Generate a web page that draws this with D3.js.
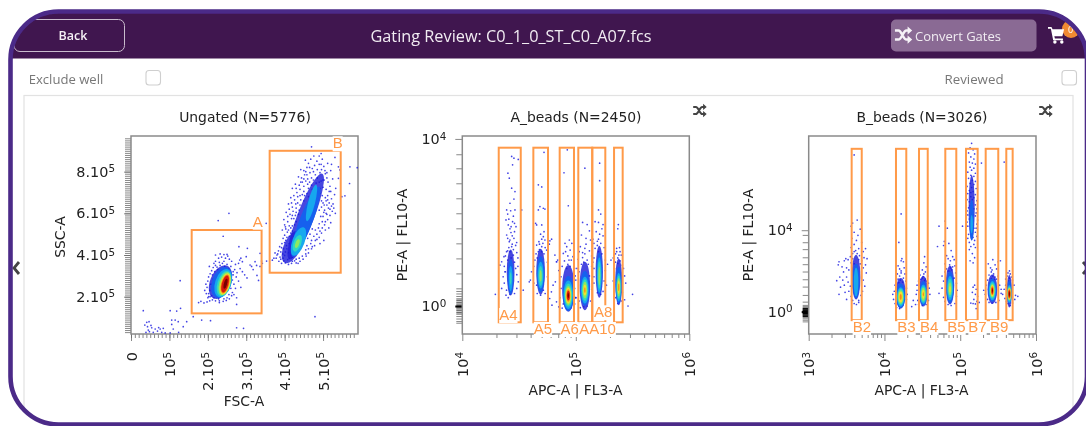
<!DOCTYPE html>
<html>
  <head>
    <title>Gating Review</title>
    <meta charset="utf-8">
    <style>
      html, body { margin: 0; padding: 0; background: #fff; }
      svg { display: block; }
      text { font-family: "DejaVu Sans", sans-serif; fill: #222; }
      .ui { font-family: "Open Sans", sans-serif; }
    </style>
  </head>
  <body>
    <script src="https://d3js.org/d3.v7.min.js"></script>
    <script>
      // jet colours of the density scale, low to high
      const jetLevels = ["#1c1cd8","#1560ee","#18a8ee","#30d8c0","#90e860","#f0e030","#f88818","#d81808","#780000"]

      // Ungated panel, values in units of 10^5
      const ungatedXTicks = [0,1e5,2e5,3e5,4e5,5e5]
      const ungatedXLabels = ["0","10^5","2.10^5","3.10^5","4.10^5","5.10^5"]
      const ungatedYTicks = [2e5,4e5,6e5,8e5]
      const ungatedYLabels = ["2.10^5","4.10^5","6.10^5","8.10^5"]
      const ungatedGates = [["A",1.58,3.40,1.2,5.2],["B",3.61,5.46,3.15,9.0]]
      const ungatedGateLabels = [["A",3.17,5.36],["B",5.25,9.12]]
      const ungatedDebris = [[.32,1.33],[1.02,1.33],[1.19,1.31],[1.29,1.44],[1.28,2.77],[.41,.77],[.47,.8],[.36,.64],[.43,.56],[.54,.51],[.63,.45],[.76,.45],[.84,.48],[.39,.29],[.48,.32],[.58,.29],[.8,.29],[.89,.26],[1.02,.26],[1.24,.29],[1.06,.88],[1.15,.88],[1.06,.67],[1.23,.8],[1.36,.56],[1.45,.8],[1.62,1.04],[1.84,.88],[2.07,.85],[2.75,.51],[2.93,.48],[2.75,1.63],[4.79,1.04],[.45,.4],[.52,.62],[.69,.35],[.72,.52],[1.1,.45]]
      const ungatedStray = [[5.4,8.23],[5.7,8.23],[5.89,8.19],[5.44,8.08],[5.49,6.8],[5.57,6.84],[5.69,7.43],[5.4,7.68],[5.31,8.68],[4.7,9.19],[4.95,8.87],[2.55,6.0],[2.27,5.65],[2.4,4.9],[2.81,4.4],[3.03,4.32],[3.36,4.08],[3.52,5.52],[3.53,3.71],[3.23,3.68],[3.27,3.5],[3.36,3.45],[3.4,3.71],[3.14,3.45],[3.1,3.52],[3.0,3.92],[2.9,3.68],[2.83,3.76],[3.32,2.78],[3.28,3.02],[3.42,3.6],[3.18,3.3]]
      const ungatedAPoints = [[2.2,4.0],[2.32,4.05],[2.42,4.02],[2.5,4.03],[2.28,3.85],[2.36,3.9],[2.46,3.85],[2.56,3.8],[2.62,3.7],[2.2,3.7],[2.16,3.6],[2.3,3.65],[2.42,3.7],[2.72,3.55],[2.8,3.6],[2.84,3.35],[2.7,3.3],[2.76,3.15],[2.9,3.2],[2.96,3.05],[3.02,2.9],[2.74,2.95],[2.8,2.75],[2.68,2.6],[2.72,2.4],[2.64,2.2],[2.62,2.05],[2.56,1.9],[2.48,1.82],[2.4,1.78],[2.3,1.72],[2.2,1.8],[2.12,1.85],[2.05,1.8],[1.98,1.75],[1.9,1.7],[2.02,2.0],[1.96,2.15],[1.92,2.3],[1.98,2.45],[1.95,2.6],[2.0,2.75],[2.02,2.95],[2.06,3.1],[2.1,3.25],[2.14,3.4],[2.2,3.5],[2.5,3.55],[2.6,3.45],[2.66,3.2],[2.32,3.5],[2.26,3.3],[2.05,2.3],[2.1,2.05],[2.16,1.95],[2.28,1.9],[2.42,1.9],[2.55,2.1],[2.6,2.4],[2.64,2.8],[2.62,3.05],[2.14,2.85],[2.08,2.6],[2.12,3.05],[2.58,2.95],[2.0,1.95],[1.82,1.78],[1.76,1.72],[2.75,1.95],[2.68,2.1],[2.86,2.45],[2.52,3.95],[2.04,3.45],[2.86,3.85],[2.38,3.6],[2.44,3.45],[2.24,3.42],[2.18,3.2],[2.54,3.35],[2.66,3.05],[2.02,2.15],[2.06,2.0],[2.3,1.8],[2.5,1.95]]
      const ungatedBPoints = [[3.85,3.7],[3.92,3.6],[3.88,3.9],[3.96,3.85],[4.02,3.62],[4.1,3.55],[4.2,3.7],[4.3,3.62],[4.08,3.78],[4.0,3.98],[3.82,4.05],[3.78,3.85],[3.9,4.15],[3.97,4.3],[3.87,4.4],[3.93,4.55],[4.03,4.7],[4.0,4.95],[4.07,5.1],[4.03,5.25],[4.12,5.4],[4.08,5.6],[4.18,5.75],[4.14,5.95],[4.22,6.1],[4.2,6.3],[4.29,6.45],[4.26,6.65],[4.34,6.8],[4.32,7.0],[4.4,7.15],[4.38,7.35],[4.46,7.5],[4.44,7.7],[4.52,7.85],[4.5,8.05],[4.58,8.2],[4.62,8.4],[4.66,7.95],[4.72,8.15],[4.78,8.3],[4.84,8.5],[4.9,8.35],[4.96,8.1],[5.02,8.25],[5.06,7.9],[4.92,7.95],[4.8,7.85],[4.7,7.7],[4.6,7.65],[5.1,7.7],[5.13,7.5],[5.03,7.6],[4.95,7.55],[5.18,7.3],[5.2,7.05],[5.08,7.15],[5.0,7.25],[5.12,6.85],[5.22,6.7],[5.26,6.45],[5.16,6.5],[5.08,6.6],[5.14,6.25],[5.24,6.1],[5.18,5.9],[5.08,6.0],[5.12,5.7],[5.04,5.45],[5.06,5.2],[4.96,5.05],[4.98,5.6],[5.0,5.85],[4.9,4.85],[4.88,5.3],[4.8,4.7],[4.78,4.45],[4.84,5.0],[4.7,4.3],[4.62,4.1],[4.68,4.55],[4.56,3.95],[4.48,3.8],[4.4,3.7],[4.55,4.25],[4.5,7.3],[4.6,7.4],[4.7,7.35],[4.82,7.45],[4.92,7.2],[4.58,6.95],[4.46,6.9],[4.5,6.6],[4.4,6.4],[4.38,6.15],[4.28,5.9],[4.3,5.6],[4.2,5.4],[4.2,5.15],[4.12,4.9],[4.12,4.55],[4.06,4.3],[4.98,6.85],[5.03,6.4],[5.06,6.75],[4.68,8.6],[4.54,8.55],[4.42,8.1],[4.36,7.75],[4.28,7.4],[4.2,7.2],[4.16,6.75],[4.1,6.45],[4.04,6.05],[3.98,5.7],[4.0,5.45],[3.94,5.2],[5.3,6.9],[5.33,7.2],[5.28,6.25],[5.32,6.0],[5.2,5.55],[5.15,5.3],[5.02,4.7],[4.92,4.55],[5.25,7.65],[5.2,8.05],[5.12,8.4],[4.98,8.6],[4.76,8.75],[4.9,8.75],[5.22,8.35],[3.72,3.85],[3.75,4.1],[3.68,3.75]]
      const ungatedBFringe = [[4.55,7.55],[4.65,7.5],[4.75,7.6],[4.85,7.7],[4.62,7.2],[4.72,7.15],[4.82,7.1],[4.9,7.5],[5.0,7.6],[4.5,7.05],[4.4,6.85],[4.52,6.85],[4.62,6.8],[4.92,6.95],[4.96,6.6],[5.0,6.5],[5.12,6.65],[5.04,6.15],[4.96,6.3],[4.42,6.65],[4.34,6.5],[4.3,6.25],[4.36,5.95],[4.24,5.75],[4.26,5.45],[4.16,5.3],[4.16,5.05],[4.1,5.2],[4.06,4.85],[4.0,4.6],[4.05,4.45],[3.95,4.05],[4.02,4.15],[4.12,3.85],[4.2,3.9],[4.3,3.8],[4.38,3.85],[4.46,3.95],[4.55,4.05],[4.62,4.3],[4.7,4.7],[4.76,4.9],[4.8,5.2],[4.9,5.5],[4.98,5.3],[4.94,5.85],[5.02,6.05],[4.9,6.15],[5.1,6.4],[5.18,6.2],[4.55,8.0],[4.65,8.2],[4.75,8.0],[4.85,8.1],[4.95,8.35],[5.05,8.05],[4.58,7.85],[4.5,7.65],[4.42,7.5],[4.3,7.2],[4.24,6.85],[4.18,6.5],[4.12,6.2],[4.08,5.85],[4.02,5.35],[3.96,4.8],[3.92,4.35],[5.1,7.95],[5.16,7.05],[5.22,6.35],[5.1,5.95],[5.06,5.6],[4.92,5.15],[4.84,4.75],[4.72,4.4],[4.58,4.45],[4.18,3.6],[4.26,3.72],[4.35,3.6],[3.98,3.72],[3.9,3.8],[3.84,4.2],[3.8,4.0],[4.1,4.1],[4.16,4.0],[4.6,4.8],[4.66,5.0],[4.72,5.25],[4.2,5.9],[4.3,6.05]]
      const ungatedDensity = [
        [2.33,2.7,.27,.85,22,0],[2.36,2.68,.25,.77,20,1],[2.4,2.65,.21,.7,18,2],[2.42,2.63,.17,.62,17,3],[2.44,2.62,.145,.57,16,4],[2.45,2.61,.125,.52,16,5],[2.45,2.61,.105,.47,15,6],[2.45,2.61,.085,.42,15,7],[2.46,2.62,.04,.25,15,8],
        [4.55,5.85,.22,2.2,21,0],[4.2,4.4,.22,.85,25,0],[4.55,5.6,.17,1.8,21,1],[4.36,4.65,.16,.72,20,2],[4.7,6.5,.09,.9,14,2],[4.33,4.56,.1,.42,20,3],[4.33,4.55,.05,.22,20,4]
      ]

      // A_beads panel, values as log10
      const beadsAXTicks = [1e4,1e5,1e6]
      const beadsAXLabels = ["10^4","10^5","10^6"]
      const beadsAYTicks = [1e4,1]
      const beadsAYLabels = ["10^4","10^0"]
      const beadsAYMinorLog = [3.633,3.297,2.938,2.579,2.22,1.86,1.5,1.14,.78,.423,.36,.3,.24,.18,.14,.1,.06,.03,-.03,-.06,-.1,-.14,-.18,-.24,-.3,-.36,-.4]
      const beadsAGates = [["A4",4.321,4.515],["A5",4.626,4.755],["A6",4.858,4.984],["A7",5.022,5.145],["A8",5.145,5.26],["A10",5.337,5.413]]
      const beadsAGateY = [-.39,3.79]
      const beadsAGateLabels = [["A4",4.325,-.335],["A5",4.63,-.67],["A6",4.865,-.67],["AA10",5.03,-.67],["A8",5.16,-.27]]
      const beadsADensity = [
        [4.426,.8,.034,.55,0,0],[4.426,.7,.026,.42,0,1],[4.426,.66,.016,.3,0,2],[4.426,.66,.008,.15,0,3],
        [4.69,.82,.038,.55,0,0],[4.69,.76,.034,.43,0,1],[4.69,.74,.026,.32,0,2],[4.69,.72,.018,.24,0,3],[4.69,.72,.01,.14,0,4],
        [4.934,.42,.054,.56,0,0],[4.934,.3,.05,.42,0,1],[4.934,.27,.042,.34,0,2],[4.934,.26,.034,.28,0,3],[4.934,.25,.028,.23,0,4],[4.934,.25,.023,.19,0,5],[4.934,.25,.018,.15,0,6],[4.934,.25,.013,.11,0,7],[4.934,.25,.006,.06,0,8],
        [5.08,.48,.046,.58,0,0],[5.08,.42,.042,.42,0,1],[5.08,.38,.034,.32,0,2],[5.08,.38,.027,.26,0,3],[5.08,.38,.02,.2,0,4],[5.08,.38,.013,.13,0,5],[5.08,.38,.006,.07,0,6],
        [5.207,.82,.032,.62,0,0],[5.207,.78,.027,.5,0,1],[5.207,.74,.02,.42,0,2],[5.207,.74,.014,.33,0,3],[5.207,.72,.008,.22,0,4],
        [5.378,.58,.03,.56,0,0],[5.378,.5,.028,.44,0,1],[5.378,.45,.022,.34,0,2],[5.378,.45,.018,.28,0,3],[5.378,.45,.014,.22,0,4],[5.378,.45,.01,.16,0,5],[5.378,.45,.005,.09,0,6]
      ]
      const beadsAPoints4 = [[4.435,3.58],[4.455,3.54],[4.493,3.51],[4.443,3.38],[4.402,3.18],[4.414,3.06],[4.435,2.82],[4.464,2.74],[4.455,2.56],[4.42,2.46],[4.391,2.3],[4.426,2.28],[4.464,2.3],[4.385,2.06],[4.443,2.02],[4.405,1.94],[4.473,1.9],[4.429,1.76],[4.391,1.7],[4.455,1.62],[4.414,1.54],[4.479,1.52],[4.435,1.42],[4.367,1.18],[4.347,1.06],[4.332,.98],[4.523,2.3],[4.537,.38],[4.291,.28],[4.385,.26],[4.405,.2],[4.347,.42],[4.493,.58],[4.376,.82],[4.4,2.2],[4.45,2.15],[4.41,2.08],[4.46,1.98],[4.42,1.85],[4.46,1.78],[4.4,1.62],[4.47,1.45],[4.41,1.4],[4.39,1.3],[4.45,1.35],[4.48,1.28],[4.38,1.2],[4.4,1.1],[4.49,1.15],[4.37,.95],[4.49,.95],[4.36,.7],[4.37,.55],[4.48,.75],[4.39,.38],[4.42,.28],[4.46,.3],[4.48,.42],[4.43,1.9],[4.44,1.68],[4.42,1.58],[4.44,1.48],[4.42,1.3],[4.45,1.22],[4.43,1.15],[4.4,1.32],[4.46,1.05],[4.47,.9],[4.38,.82]]
      const beadsAPoints5 = [[4.67,2.9],[4.7,2.85],[4.72,3.68],[4.684,2.38],[4.67,2.3],[4.714,2.34],[4.728,2.32],[4.646,1.98],[4.655,1.94],[4.7,1.94],[4.72,1.78],[4.714,1.66],[4.675,1.54],[4.655,1.46],[4.728,1.58],[4.7,1.42],[4.772,1.56],[4.787,1.6],[4.767,1.48],[4.743,1.34],[4.831,1.06],[4.816,1.22],[4.84,1.1],[4.61,.82],[4.6,.62],[4.59,.58],[4.714,.38],[4.69,.26],[4.655,.5],[4.66,1.15],[4.67,1.3],[4.72,1.25],[4.73,1.4],[4.68,1.48],[4.64,1.1],[4.75,1.05],[4.63,.95],[4.75,.7],[4.63,.55],[4.66,.3],[4.73,.3],[4.65,1.25],[4.7,1.6],[4.69,1.72],[4.71,1.5],[4.68,1.35],[4.7,1.3]]
      const beadsAPoints6 = [[4.925,3.74],[4.896,3.19],[4.934,2.4],[4.943,1.58],[4.905,1.5],[4.965,1.5],[4.92,1.42],[4.95,1.34],[4.89,1.26],[4.975,1.18],[4.83,1.06],[4.8,.5],[4.785,.34],[4.82,.58],[4.77,.18],[4.79,.02],[4.83,.1],[4.85,-.02],[4.88,-.05],[4.92,-.07],[4.96,-.04],[4.99,.05],[5.0,.2],[4.98,.45],[4.93,1.2],[4.9,1.08],[4.96,1.1],[4.88,.95],[4.99,.9],[4.93,1.0],[4.87,.7],[4.87,.42],[4.86,.2],[4.89,.05],[4.995,.72],[4.91,1.3],[4.85,.85],[4.94,1.1],[4.92,.9],[4.95,.95]]
      const beadsAPoints7 = [[5.08,3.3],[5.06,2.0],[5.1,1.95],[5.12,1.8],[5.05,1.7],[5.09,1.62],[5.13,1.58],[5.04,1.42],[5.08,1.38],[5.12,1.32],[5.03,1.3],[5.16,1.5],[5.14,1.2],[5.02,1.12],[5.06,1.16],[5.1,1.1],[5.01,.9],[5.14,.95],[5.16,.7],[5.0,.62],[4.99,.42],[5.14,.4],[5.03,.12],[5.07,-.02],[5.1,.0],[5.13,.12],[5.05,1.0],[5.15,1.05],[5.0,.2],[5.04,-.04],[5.12,.72],[5.03,.82],[5.08,1.25],[5.07,1.05],[5.11,1.0],[5.09,1.48],[5.06,1.28]]
      const beadsAPoints8 = [[5.21,3.42],[5.21,3.0],[5.2,2.3],[5.22,2.2],[5.17,2.02],[5.2,2.0],[5.24,1.95],[5.23,1.85],[5.18,1.78],[5.24,1.68],[5.15,1.6],[5.19,1.55],[5.22,1.5],[5.25,1.4],[5.17,1.38],[5.2,1.3],[5.23,1.25],[5.26,1.1],[5.16,1.15],[5.16,.9],[5.26,.85],[5.25,.6],[5.16,.55],[5.19,.32],[5.22,.28],[5.24,.35],[5.27,.5],[5.28,1.0],[5.2,1.6],[5.21,1.72],[5.19,1.45]]
      const beadsAPoints10 = [[5.375,1.95],[5.37,1.85],[5.385,1.4],[5.36,1.38],[5.39,1.3],[5.35,1.25],[5.4,1.22],[5.37,1.15],[5.33,1.15],[5.31,1.1],[5.41,.98],[5.35,1.05],[5.42,.9],[5.34,.9],[5.43,.72],[5.33,.6],[5.44,.55],[5.35,.2],[5.38,.1],[5.4,.12],[5.37,.06],[5.5,.28],[5.46,.0],[5.43,.15],[5.41,.33],[5.39,1.08],[5.36,1.3],[5.38,1.22],[5.37,1.02]]

      // B_beads panel, values as log10
      const beadsBXTicks = [1e3,1e4,1e5,1e6]
      const beadsBXLabels = ["10^3","10^4","10^5","10^6"]
      const beadsBYTicks = [1e4,1]
      const beadsBYLabels = ["10^4","10^0"]
      const beadsBYMinorLog = [3.77,3.41,3.07,2.67,2.33,1.97,1.59,1.23,.82,.49,.33,.27,.22,.18,.14,.1,.07,.04,.02,-.02,-.04,-.07,-.1,-.14,-.18,-.22,-.27,-.33,-.4,-.48]
      const beadsBGates = [["B2",3.567,3.70],["B3",4.152,4.288],["B4",4.456,4.571],["B5",4.803,4.948],["B7",5.076,5.23],["B9",5.336,5.502],["B10",5.608,5.692]]
      const beadsBGateY = [-.42,8.0]
      const beadsBGateLabels = [["B2",3.58,-1.0],["B3",4.17,-1.0],["B4",4.47,-1.0],["B5",4.83,-1.0],["B7",5.107,-1.0],["B9",5.393,-1.0]]
      const beadsBDensity = [
        [3.625,1.7,.058,1.1,0,0],[3.625,1.5,.048,.85,0,1],[3.625,1.45,.03,.7,0,2],
        [4.214,.9,.066,.75,0,0],[4.214,.78,.06,.6,0,1],[4.214,.72,.05,.48,0,2],[4.214,.72,.042,.4,0,3],[4.214,.72,.034,.33,0,4],[4.214,.72,.026,.26,0,5],[4.214,.72,.014,.15,0,6],
        [4.513,1.0,.058,.75,0,0],[4.513,.9,.052,.6,0,1],[4.513,.85,.044,.48,0,2],[4.513,.85,.036,.4,0,3],[4.513,.85,.028,.32,0,4],[4.513,.85,.018,.22,0,5],[4.513,.85,.008,.1,0,6],
        [4.865,1.3,.056,.95,0,0],[4.865,1.2,.05,.78,0,1],[4.865,1.15,.04,.6,0,2],[4.865,1.15,.03,.46,0,3],[4.865,1.12,.02,.32,0,4],[4.865,1.1,.01,.16,0,5],
        [5.151,5.1,.04,1.6,0,0],[5.151,4.5,.03,1.0,0,1],[5.151,4.3,.016,.45,0,2],
        [5.424,1.1,.064,.72,0,0],[5.424,1.05,.056,.58,0,1],[5.424,1.03,.047,.47,0,2],[5.424,1.03,.038,.4,0,3],[5.424,1.03,.03,.33,0,4],[5.424,1.03,.023,.27,0,5],[5.424,1.03,.018,.22,0,6],[5.424,1.03,.012,.16,0,7],[5.424,1.03,.005,.08,0,8],
        [5.648,1.0,.034,.8,0,0],[5.648,.95,.032,.58,0,1],[5.648,.87,.03,.44,0,2],[5.648,.87,.027,.36,0,3],[5.648,.87,.024,.31,0,4],[5.648,.87,.02,.27,0,5],[5.648,.87,.017,.23,0,6],[5.648,.87,.013,.18,0,7],[5.648,.87,.007,.11,0,8]
      ]
      const beadsBPoints2 = [[3.6,7.7],[3.58,4.35],[3.64,4.5],[3.56,4.2],[3.68,4.05],[3.6,3.9],[3.65,3.75],[3.57,3.6],[3.63,3.5],[3.7,3.4],[3.6,3.3],[3.56,3.15],[3.66,3.1],[3.62,3.0],[3.72,2.95],[3.58,2.85],[3.67,2.75],[3.73,2.65],[3.55,2.7],[3.52,2.55],[3.75,3.1],[3.7,2.5],[3.49,2.6],[3.47,2.5],[3.4,2.45],[3.39,2.3],[3.44,2.2],[3.5,2.15],[3.53,2.05],[3.46,1.95],[3.41,1.7],[3.37,1.52],[3.45,1.55],[3.5,1.7],[3.52,1.45],[3.47,1.3],[3.42,1.2],[3.55,1.25],[3.4,.85],[3.48,.95],[3.53,1.0],[3.56,.75],[3.5,.6],[3.72,1.55],[3.76,1.9],[3.74,1.25],[3.71,1.0],[3.69,.8],[3.66,.55],[3.6,.4],[3.63,.35],[3.66,.45],[3.58,.55],[3.75,2.3],[3.72,2.15],[3.77,2.6],[3.6,2.95],[3.64,2.85],[3.58,2.6],[3.66,2.55],[3.56,2.4],[3.6,2.35],[3.68,2.35]]
      const beadsBPoints3 = [[4.22,4.8],[4.19,3.4],[4.23,2.6],[4.22,2.5],[4.25,2.45],[4.18,2.25],[4.2,2.1],[4.26,2.15],[4.22,2.0],[4.17,1.85],[4.27,1.85],[4.2,1.75],[4.25,1.65],[4.16,1.55],[4.28,1.5],[4.13,1.0],[4.11,.85],[4.12,.6],[4.14,.4],[4.16,.2],[4.2,.15],[4.24,.3],[4.29,.6],[4.3,.85],[4.29,1.15],[4.14,1.3],[4.22,1.9],[4.18,1.6],[4.38,.55],[4.41,.35],[4.36,.25],[4.21,1.55],[4.24,1.45],[4.19,1.42]]
      const beadsBPoints4 = [[4.53,2.7],[4.52,2.4],[4.55,2.2],[4.5,2.05],[4.54,1.95],[4.47,1.8],[4.57,1.75],[4.5,1.65],[4.54,1.6],[4.45,1.5],[4.58,1.4],[4.43,1.05],[4.42,.85],[4.44,.55],[4.45,.35],[4.5,.3],[4.55,.35],[4.58,.55],[4.6,.85],[4.59,1.15],[4.43,1.3],[4.52,1.85],[4.56,1.5],[4.48,1.58],[4.51,1.72],[4.53,1.52]]
      const beadsBPoints5 = [[4.72,4.2],[4.8,4.45],[4.83,4.1],[4.79,3.45],[4.78,3.25],[4.7,3.2],[4.85,3.35],[4.88,3.0],[4.82,2.75],[4.9,2.7],[4.84,2.6],[4.87,2.5],[4.92,2.55],[4.8,2.35],[4.86,2.3],[4.93,2.25],[4.82,2.1],[4.89,2.05],[4.8,1.95],[4.94,1.9],[4.85,1.85],[4.76,1.75],[4.92,1.65],[4.78,1.5],[4.95,1.4],[4.76,1.15],[4.72,.9],[4.78,.7],[4.8,.5],[4.84,.35],[4.88,.3],[4.93,.4],[4.95,.75],[4.96,1.05],[4.9,2.2],[4.84,2.0],[4.87,2.15],[4.86,1.98]]
      const beadsBPoints7 = [[5.15,8.27],[5.13,8.05],[5.17,7.95],[5.11,7.8],[5.19,7.75],[5.14,7.6],[5.18,7.5],[5.12,7.35],[5.16,7.3],[5.2,7.25],[5.13,7.1],[5.18,7.05],[5.15,6.95],[5.1,6.85],[5.2,6.8],[5.14,6.7],[5.18,6.65],[5.11,6.55],[5.16,6.45],[5.2,6.4],[5.13,6.3],[5.18,6.25],[5.09,6.15],[5.15,6.1],[5.21,6.05],[5.12,5.95],[5.17,5.9],[5.1,5.8],[5.2,5.75],[5.14,5.65],[5.18,5.6],[5.09,5.5],[5.22,5.45],[5.12,5.4],[5.16,5.3],[5.2,5.25],[5.08,5.2],[5.11,5.1],[5.22,5.05],[5.09,4.95],[5.21,4.85],[5.1,4.75],[5.2,4.7],[5.08,4.6],[5.23,4.5],[5.09,4.4],[5.22,4.3],[5.1,4.2],[5.21,4.1],[5.08,4.0],[5.2,3.9],[5.11,3.8],[5.22,3.7],[5.1,3.6],[5.19,3.5],[5.12,3.4],[5.18,3.3],[5.14,3.2],[5.2,3.15],[5.12,3.05],[5.16,2.85],[5.19,2.65],[5.13,2.5],[5.17,2.4],[5.28,7.3],[5.03,4.2],[5.19,1.3],[5.17,1.2],[5.21,1.1],[5.16,.95],[5.2,.85],[5.23,.75],[5.18,.6],[5.22,.5],[5.17,.4],[5.2,.38],[5.25,.45],[5.14,.42],[5.21,.15],[5.14,5.85],[5.16,5.5],[5.13,5.2],[5.18,5.05],[5.13,4.85],[5.17,4.75],[5.12,4.55],[5.18,4.1],[5.14,3.9],[5.17,3.65]]
      const beadsBPoints9 = [[5.43,2.55],[5.46,2.3],[5.4,2.15],[5.37,2.35],[5.5,2.45],[5.53,2.5],[5.48,2.1],[5.41,1.95],[5.44,1.85],[5.38,1.8],[5.5,1.75],[5.36,1.55],[5.48,1.6],[5.34,1.3],[5.52,1.3],[5.31,1.05],[5.33,.85],[5.54,.9],[5.36,.6],[5.38,.45],[5.42,.42],[5.47,.45],[5.51,.55],[5.54,1.1],[5.42,2.05],[5.46,1.7],[5.43,1.75],[5.41,1.62],[5.45,1.58]]
      const beadsBPoints10 = [[5.58,7.35],[5.65,2.0],[5.63,1.9],[5.66,1.85],[5.62,1.75],[5.68,1.7],[5.6,1.6],[5.69,1.55],[5.6,1.3],[5.71,1.3],[5.58,1.1],[5.56,.85],[5.59,.65],[5.73,.8],[5.76,.75],[5.72,.6],[5.63,.4],[5.66,.3],[5.69,.42],[5.61,.5],[5.65,1.65],[5.64,1.5]]

      const width = 1086
      const height = 426
      const svg = d3.select("body").append("svg").attr("width",width).attr("height",height)

      const defs = svg.append("defs")
      defs.append("filter").attr("id","soft").attr("x",0).attr("y",0).attr("width",1).attr("height",1)
        .append("feGaussianBlur").attr("stdDeviation",0.4)
      defs.append("filter").attr("id","smear").attr("x","-10%").attr("y","-10%").attr("width","120%").attr("height","120%")
        .append("feGaussianBlur").attr("stdDeviation",0.6)
      defs.append("clipPath").attr("id","frame")
        .append("rect").attr("x",10.5).attr("y",11.5).attr("width",1076.5).attr("height",413).attr("rx",48)

      const page = svg.append("g").attr("filter","url(#soft)")
      page.append("rect").attr("width",width).attr("height",height).attr("fill","#fff")

      // header, buttons and checkboxes
      const chrome = page.append("g").attr("clip-path","url(#frame)")
      chrome.append("rect").attr("x",0).attr("y",0).attr("width",width).attr("height",58.5).attr("fill","#40154f")
      chrome.append("rect").attr("x",14).attr("y",19.5).attr("width",110.5).attr("height",32).attr("rx",6)
        .attr("fill","none").attr("stroke","#c9bccd").attr("stroke-width",1)
      chrome.append("rect").attr("x",24).attr("y",95.5).attr("width",1049).attr("height",340)
        .attr("fill","none").attr("stroke","#e2e2e2").attr("stroke-width",1.2)
      chrome.append("rect").attr("x",891).attr("y",19.5).attr("width",145.5).attr("height",32).attr("rx",5).attr("fill","#8a6b94")
      chrome.append("circle").attr("cx",1071).attr("cy",29).attr("r",9).attr("fill","#f08a30")
      chrome.append("text").attr("class","ui").attr("x",1068).attr("y",33).attr("font-size",9).style("fill","#fff").text("0")

      const uiText = (str,x,y,size,color,weight) => page.append("text").attr("class","ui")
        .attr("x",x).attr("y",y).attr("font-size",size).attr("font-weight",weight || 400)
        .attr("text-anchor","middle").attr("dominant-baseline","central").style("fill",color).text(str)
      uiText("Back",73,35.5,12.5,"#f4eff5",600)
      uiText("Gating Review: C0_1_0_ST_C0_A07.fcs",511,36,16.3,"#f1ecf2")
      uiText("Convert Gates",958,36,13,"#f1ecf2")
      uiText("Exclude well",66,79,13.1,"#777")
      uiText("Reviewed",974,79,13.3,"#777")

      for (const x of [146,1062]) {
        page.append("rect").attr("x",x).attr("y",70.5).attr("width",14.5).attr("height",14.5).attr("rx",3)
          .attr("fill","#fff").attr("stroke","#cfcfcf").attr("stroke-width",1.1)
      }

      const shuffle = (x,y,color,k) => {
        const g = page.append("g").attr("transform","translate(" + x + "," + y + ") scale(" + k + ")")
        g.append("path").attr("d","M-7,-4 h3 c3,0 4,8 7,8 h2 M-7,4 h3 c3,0 4,-8 7,-8 h2")
          .attr("fill","none").attr("stroke",color).attr("stroke-width",2.2)
        g.append("path").attr("d","M4,-7.5 L8,-4 L4,-.5 Z M4,.5 L8,4 L4,7.5 Z").attr("fill",color)
      }
      shuffle(903,35,"#f6f2f7",1.15)
      shuffle(699.5,110.5,"#444",.9)
      shuffle(1045.5,110.5,"#444",.9)

      // cart
      const cart = page.append("g").attr("transform","translate(1048,27) scale(1.15)").attr("fill","#fff")
      cart.append("path").attr("d","M0,0 H3 L4,2 H14 L12.5,8 H5.5 L6,10 H13 V11.5 H4.5 L2.5,1.5 H0 Z")
      cart.append("circle").attr("cx",6).attr("cy",13).attr("r",1.5)
      cart.append("circle").attr("cx",12).attr("cy",13).attr("r",1.5)

      // side arrows
      page.append("path").attr("d","M19,262 L14,268 L19,274").attr("fill","none").attr("stroke","#444").attr("stroke-width",2.8)
      page.append("path").attr("d","M1083,262 L1088,268 L1083,274").attr("fill","none").attr("stroke","#444").attr("stroke-width",2.8)

      page.append("rect").attr("x",10.5).attr("y",11.5).attr("width",1076.5).attr("height",413).attr("rx",48)
        .attr("fill","none").attr("stroke","#4b2a88").attr("stroke-width",4.6)

      // writes "10^5" as a base and a raised exponent
      const writeTick = (sel,label) => {
        const parts = label.split("^")
        sel.text(null)
        sel.append("tspan").text(parts[0])
        if (parts[1]) sel.append("tspan").attr("dy","-0.42em").attr("font-size","0.72em").text(parts[1])
      }

      const drawPanel = (p) => {
        const plot = page.append("g")
        const x = p.xScale
        const y = p.yScale
        const [left,right] = x.range()
        const [bottom,top] = y.range()

        plot.append("text").attr("x",p.titleX).attr("y",122).attr("text-anchor","middle").attr("font-size",13.9).text(p.title)
        plot.append("text").attr("x",p.xTitleX).attr("y",p.xTitleY).attr("text-anchor","middle").attr("font-size",13.9).text(p.xTitle)
        plot.append("text").attr("transform","translate(" + p.yTitleX + "," + p.yTitleY + ") rotate(-90)")
          .attr("text-anchor","middle").attr("font-size",13.9).text(p.yTitle)

        const minorX = plot.append("g").attr("transform","translate(0," + bottom + ")")
          .call(d3.axisBottom(x).tickValues(p.xMinor).tickSize(p.xMinorSize).tickFormat(""))
        const minorY = plot.append("g").attr("transform","translate(" + left + ",0)")
          .call(d3.axisLeft(y).tickValues(p.yMinor).tickSize(p.yMinorSize).tickFormat(""))
        const majorX = plot.append("g").attr("transform","translate(0," + bottom + ")")
          .call(d3.axisBottom(x).tickValues(p.xTicks).tickSize(7).tickPadding(11).tickFormat((d,i) => i))
        const majorY = plot.append("g").attr("transform","translate(" + left + ",0)")
          .call(d3.axisLeft(y).tickValues(p.yTicks).tickSize(7).tickPadding(9).tickFormat((d,i) => i))
        for (const g of [minorX,minorY,majorX,majorY]) {
          g.select(".domain").remove()
          g.selectAll("line").attr("stroke","#6a6a6a").attr("stroke-width",.8)
        }
        // the ticks bunch up around 10^0 on the log panels
        if (p.darkZero) {
          minorY.selectAll("line").filter((d) => d > 0.6 && d < 1.6).attr("stroke",p.darkZero).attr("stroke-width",1)
          majorY.selectAll("line").filter((d) => d === 1).attr("stroke","#000").attr("stroke-width",2)
        }
        majorX.selectAll("text").each(function(d,i) { writeTick(d3.select(this),p.xLabels[i]) })
          .attr("font-family","DejaVu Sans").attr("font-size",14.4).attr("text-anchor","end")
          .attr("y",0).attr("x",0).attr("dy",0)
          .attr("transform","translate(0,18) rotate(-90) translate(0,5)")
        majorY.selectAll("text").each(function(d,i) { writeTick(d3.select(this),p.yLabels[i]) })
          .attr("font-family","DejaVu Sans").attr("font-size",14.4)

        plot.append("rect").attr("x",left).attr("y",top).attr("width",right - left).attr("height",bottom - top)
          .attr("fill","#fff").attr("stroke","#8a8a8a").attr("stroke-width",1.5)

        plot.append("g").selectAll("circle").data(p.points).enter().append("circle")
          .attr("cx",(d) => x(p.toX(d[0])))
          .attr("cy",(d) => y(p.toY(d[1])))
          .attr("r",0.85)
          .attr("fill","#2222e0")
          .attr("opacity",0.85)

        // density bands, each [x, y, x radius, y radius, tilt, level]
        plot.append("g").attr("filter","url(#smear)").selectAll("ellipse").data(p.density).enter().append("ellipse")
          .attr("transform",(d) => "translate(" + x(p.toX(d[0])) + "," + y(p.toY(d[1])) + ") rotate(" + d[4] + ")")
          .attr("rx",(d) => Math.abs(x(p.toX(d[0] + d[2])) - x(p.toX(d[0]))))
          .attr("ry",(d) => Math.abs(y(p.toY(d[1] + d[3])) - y(p.toY(d[1]))))
          .attr("fill",(d) => jetLevels[d[5]])
          .attr("opacity",(d) => d[5] === 0 ? 0.8 : 1)

        plot.append("g").selectAll("rect").data(p.gates).enter().append("rect")
          .attr("x",(d) => x(p.toX(d[1])))
          .attr("y",(d) => y(p.toY(d[4])))
          .attr("width",(d) => x(p.toX(d[2])) - x(p.toX(d[1])))
          .attr("height",(d) => y(p.toY(d[3])) - y(p.toY(d[4])))
          .attr("fill","none").attr("stroke","#ff9a48").attr("stroke-width",2)

        for (const d of p.gateLabels) {
          const label = plot.append("g")
          const t = label.append("text").attr("x",x(p.toX(d[1]))).attr("y",y(p.toY(d[2])))
            .attr("font-size",15).style("font-family","Liberation Sans").style("fill","#ff9a48").text(d[0])
          const box = t.node().getBBox()
          label.insert("rect","text").attr("x",box.x).attr("y",box.y + 2).attr("width",box.width).attr("height",box.height - 2).attr("fill","#fff")
        }
      }

      const toLog = (v) => Math.pow(10,v)
      const toUnits = (v) => v * 1e5

      // decade minors of a log axis
      const logMinors = (first,last) => d3.range(first,last).flatMap((e) => d3.range(2,10).map((m) => m * Math.pow(10,e)))

      drawPanel({
        title: "Ungated (N=5776)", titleX: 245,
        xTitle: "FSC-A", xTitleX: 244, xTitleY: 406,
        yTitle: "SSC-A", yTitleX: 65, yTitleY: 237,
        xScale: d3.scaleLinear().domain([0,5.91e5]).range([131,358]),
        yScale: d3.scaleLinear().domain([.21e5,9.71e5]).range([334,136]),
        toX: toUnits, toY: toUnits,
        xTicks: ungatedXTicks, xLabels: ungatedXLabels,
        yTicks: ungatedYTicks, yLabels: ungatedYLabels,
        xMinor: d3.range(0,5.9e5,1e4), xMinorSize: 4,
        yMinor: d3.range(.3e5,9.7e5,1e4), yMinorSize: 6,
        density: ungatedDensity,
        points: [...ungatedDebris,...ungatedStray,...ungatedAPoints,...ungatedBPoints,...ungatedBFringe],
        gates: ungatedGates, gateLabels: ungatedGateLabels
      })

      drawPanel({
        title: "A_beads (N=2450)", titleX: 576,
        xTitle: "APC-A | FL3-A", xTitleX: 575.5, xTitleY: 395,
        yTitle: "PE-A | FL10-A", yTitleX: 407, yTitleY: 235,
        xScale: d3.scaleLog().domain([1e4,1e6]).range([462.3,689.3]),
        yScale: d3.scaleLog().domain([toLog(-.67),toLog(4.07)]).range([334,136]),
        toX: toLog, toY: toLog,
        xTicks: beadsAXTicks, xLabels: beadsAXLabels,
        yTicks: beadsAYTicks, yLabels: beadsAYLabels,
        xMinor: logMinors(4,6), xMinorSize: 4,
        yMinor: beadsAYMinorLog.map(toLog), yMinorSize: 6,
        density: beadsADensity, darkZero: "#555",
        points: [...beadsAPoints4,...beadsAPoints5,...beadsAPoints6,...beadsAPoints7,...beadsAPoints8,...beadsAPoints10],
        gates: beadsAGates.map((g) => [g[0],g[1],g[2],beadsAGateY[0],beadsAGateY[1]]),
        gateLabels: beadsAGateLabels
      })

      drawPanel({
        title: "B_beads (N=3026)", titleX: 922,
        xTitle: "APC-A | FL3-A", xTitleX: 921.5, xTitleY: 395,
        yTitle: "PE-A | FL10-A", yTitleX: 753, yTitleY: 235,
        xScale: d3.scaleLog().domain([1e3,1e6]).range([808.7,1036]),
        yScale: d3.scaleLog().domain([toLog(-1.1),toLog(8.63)]).range([334,136]),
        toX: toLog, toY: toLog,
        xTicks: beadsBXTicks, xLabels: beadsBXLabels,
        yTicks: beadsBYTicks, yLabels: beadsBYLabels,
        xMinor: logMinors(3,6), xMinorSize: 4,
        yMinor: beadsBYMinorLog.map(toLog), yMinorSize: 6,
        density: beadsBDensity, darkZero: "#000",
        points: [...beadsBPoints2,...beadsBPoints3,...beadsBPoints4,...beadsBPoints5,...beadsBPoints7,...beadsBPoints9,...beadsBPoints10],
        gates: beadsBGates.map((g) => [g[0],g[1],g[2],beadsBGateY[0],beadsBGateY[1]]),
        gateLabels: beadsBGateLabels
      })
    </script>
  </body>
</html>
